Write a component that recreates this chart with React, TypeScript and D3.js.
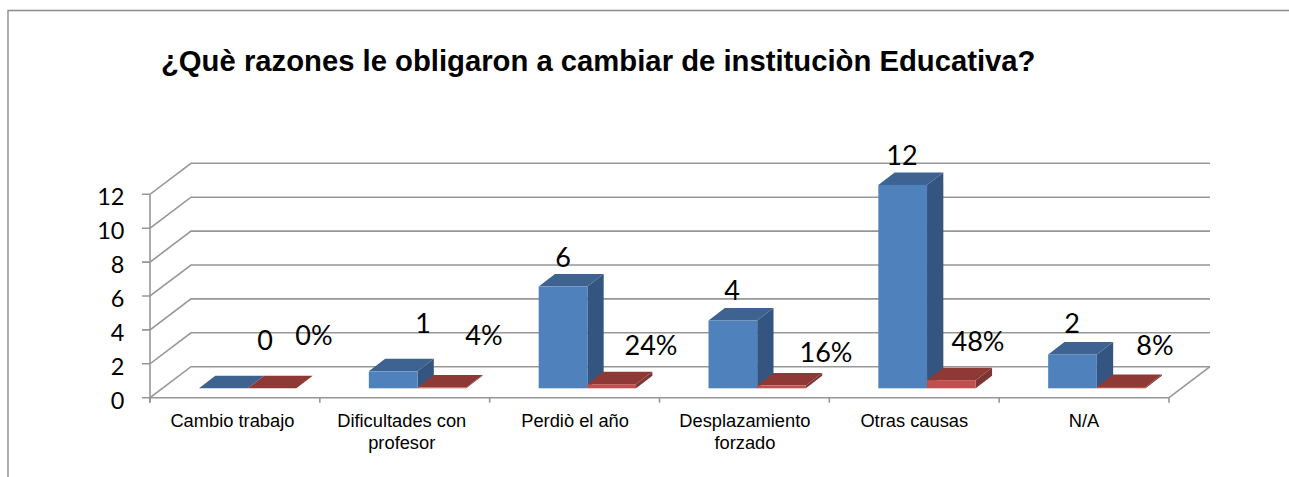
import React from "react";
import * as d3 from "d3";

const W = 1289, H = 477;
const categories = [["Cambio trabajo"], ["Dificultades con", "profesor"], ["Perdiò el año"], ["Desplazamiento", "forzado"], ["Otras causas"], ["N/A"]];
const counts = [0, 1, 6, 4, 12, 2];
const shares = [0, 0.04, 0.24, 0.16, 0.48, 0.08];
const shareLabels = ["0%", "4%", "24%", "16%", "48%", "8%"];
const yTicks = [0, 2, 4, 6, 8, 10, 12];
const title = "¿Què razones le obligaron a cambiar de instituciòn Educativa?";

const x = d3.scaleBand<number>().domain(d3.range(6)).range([150, 1169]);
const y = d3.scaleLinear().domain([0, 12]).range([397.7, 194.3]);
const backDx = 41, backDy = -31;
const barW = 48.7, barDx = 16.3, barDy = -12.5, barOff = 49, baseShift = -9.4;

const lato = "Lato, Carlito, sans-serif";
const arial = "'Liberation Sans', Arial, sans-serif";
const grid = "#979797";

function Bar({ x0, v, front, top, side }: { x0: number; v: number; front: string; top: string; side: string }) {
  const yb = y(0) + baseShift;
  const yt = y(v) + baseShift;
  const x1 = x0 + barW;
  const p = (a: number[][]) => a.map((d) => d.join(",")).join(" ");
  return (
    <g>
      {v > 0 && <polygon points={p([[x1, yb], [x1 + barDx, yb + barDy], [x1 + barDx, yt + barDy], [x1, yt]])} fill={side} />}
      <polygon points={p([[x0, yt], [x1, yt], [x1 + barDx, yt + barDy], [x0 + barDx, yt + barDy]])} fill={top} />
      {v > 0 && <rect x={x0} y={yt} width={barW} height={yb - yt} fill={front} />}
    </g>
  );
}

// label centre x, baseline y
const countLabelPos = [[265, 350], [423, 333], [563, 267], [732, 300], [902, 165], [1072, 333]];
const shareLabelPos = [[314, 345], [484, 345], [651, 355], [826, 362], [978, 351], [1155, 355]];
const categoryNudge = [-2.5, -3, 0.5, 0.5, 0, 0];

export default function App() {
  const bw = x.bandwidth();
  return (
    <svg width={W} height={H} style={{ position: "absolute", left: 0, top: 0, background: "#fff" }}>
      <path d="M8 477V10.5H1289" fill="none" stroke="#8c8c8c" strokeWidth={1.4} />
      <text x={161} y={71} fontFamily={arial} fontWeight={700} fontSize={29.25} fill="#000">{title}</text>

      {yTicks.map((t) => (
        <g key={t}>
          <polyline
            points={`${x(0)! - 8},${y(t)} ${x(0)},${y(t)} ${x(0)! + backDx},${y(t) + backDy} ${1169 + backDx},${y(t) + backDy}`}
            fill="none" stroke={grid} strokeWidth={1.6} />
          <text x={124.5} y={y(t) + 11} textAnchor="end" fontFamily={lato} fontSize={23.5} fill="#000">{t}</text>
        </g>
      ))}
      <line x1={150} x2={150} y1={y(12)} y2={y(0) + 5} stroke={grid} strokeWidth={1.6} />
      <line x1={150} x2={1169} y1={y(0)} y2={y(0)} stroke={grid} strokeWidth={1.6} />
      <line x1={1169} x2={1169 + backDx} y1={y(0)} y2={y(0) + backDy} stroke={grid} strokeWidth={1.6} />
      {d3.range(7).map((i) => {
        const tx = 150 + i * bw;
        return <line key={i} x1={tx} x2={tx} y1={y(0)} y2={y(0) + 5} stroke={grid} strokeWidth={1.6} />;
      })}

      {categories.map((_, i) => {
        const x0 = x(i)! + barOff;
        return (
          <g key={i}>
            <Bar x0={x0} v={counts[i]} front="#4f81bd" top="#3e6390" side="#33557f" />
            <Bar x0={x0 + barW} v={shares[i]} front="#c0504d" top="#8f3937" side="#7d3432" />
          </g>
        );
      })}

      {categories.map((lines, i) => (
        <text key={i} textAnchor="middle" fontFamily={arial} fontSize={18.3} fill="#000">
          {lines.map((l, j) => (
            <tspan key={j} x={x(i)! + bw / 2 + categoryNudge[i]} y={427 + j * 22}>{l}</tspan>
          ))}
        </text>
      ))}

      {counts.map((c, i) => (
        <text key={i} x={countLabelPos[i][0]} y={countLabelPos[i][1]} textAnchor="middle" fontFamily={lato} fontSize={27} fill="#000">{c}</text>
      ))}
      {shareLabels.map((s, i) => (
        <text key={i} x={shareLabelPos[i][0]} y={shareLabelPos[i][1]} textAnchor="middle" fontFamily={lato} fontSize={27} fill="#000">{s}</text>
      ))}
    </svg>
  );
}
